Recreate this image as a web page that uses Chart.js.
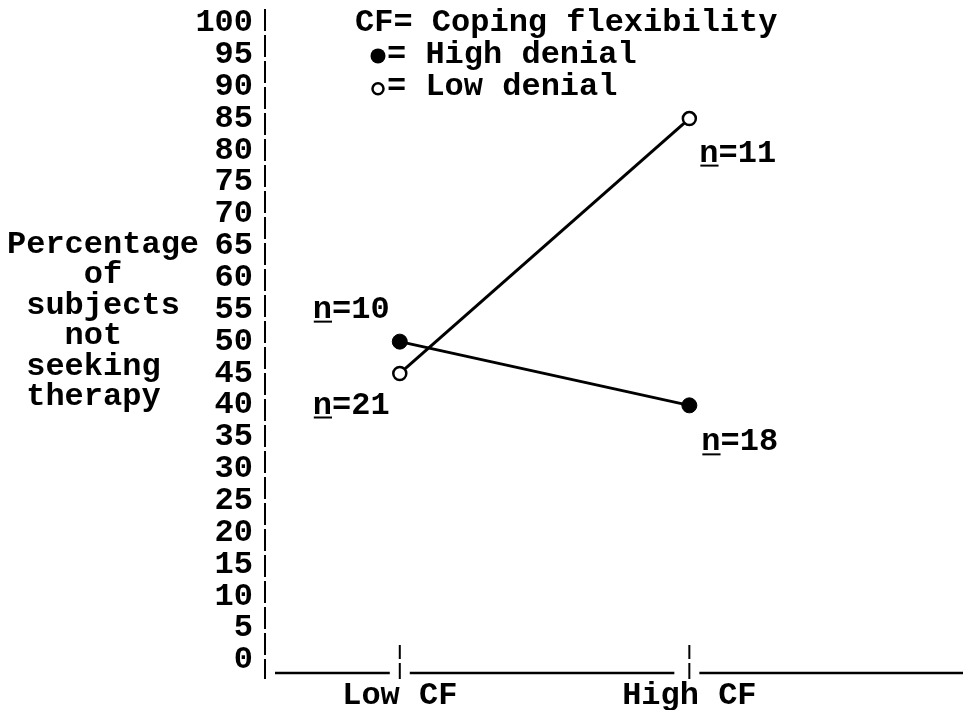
<!DOCTYPE html>
<html>
<head>
<meta charset="utf-8">
<script src="https://cdn.jsdelivr.net/npm/chart.js@4.4.1/dist/chart.umd.min.js"></script>
<style>
  html, body { margin: 0; padding: 0; background: #fff; }
  canvas { display: block; }
</style>
</head>
<body>
<canvas id="myChart" width="963" height="710"></canvas>
<script>
// data
const categories = ['Low CF', 'High CF'];
const highDenial = [50, 40];
const lowDenial = [45, 85];
const highDenialN = ['10', '18'];
const lowDenialN = ['21', '11'];
const yTicks = [0, 5, 10, 15, 20, 25, 30, 35, 40, 45, 50, 55, 60, 65, 70, 75, 80, 85, 90, 95, 100];
const yTitle = ['Percentage', '    of', ' subjects', '   not', ' seeking', ' therapy'];
const legendTitle = 'CF= Coping flexibility';
const legendLines = ['= High denial', '= Low denial'];

const FONT = 'bold 32px "Liberation Mono", "Courier New", monospace';
const CH = 19.2; // char advance at 32px

// where each n= label sits relative to its point (dx to left edge, dy to middle)
const nPlace = {
    0: [[-87, -32], [12, 37]],   // high denial
    1: [[-87, 32], [10, 35]]     // low denial
};

const extras = {
    id: 'extras',
    afterDraw(chart) {
        const ctx = chart.ctx;
        const xs = chart.scales.x, ys = chart.scales.y;
        const area = chart.chartArea;
        ctx.save();
        ctx.strokeStyle = '#000';
        ctx.fillStyle = '#000';

        // broken y axis line
        ctx.lineWidth = 2;
        ctx.setLineDash([22, 4]);
        ctx.beginPath();
        ctx.moveTo(area.left, area.top);
        ctx.lineTo(area.left, area.bottom + 6);
        ctx.stroke();
        ctx.setLineDash([]);

        // x axis line with gaps round the category ticks
        const y0 = area.bottom;
        const px = categories.map((c, i) => xs.getPixelForValue(i + 1));
        const segs = [[area.left + 10, px[0] - 10], [px[0] + 10, px[1] - 15], [px[1] + 10, chart.width]];
        ctx.lineWidth = 2.5;
        ctx.beginPath();
        segs.forEach(s => { ctx.moveTo(s[0], y0); ctx.lineTo(s[1], y0); });
        ctx.stroke();
        // little broken tick marks
        ctx.lineWidth = 2;
        ctx.beginPath();
        px.forEach(p => {
            ctx.moveTo(p, y0 - 28); ctx.lineTo(p, y0 - 14);
            ctx.moveTo(p, y0 - 10); ctx.lineTo(p, y0 + 6);
        });
        ctx.stroke();

        ctx.font = FONT;
        ctx.textBaseline = 'middle';
        ctx.textAlign = 'left';

        // y title, typewriter style
        yTitle.forEach((t, i) => ctx.fillText(t, 7, 245 + i * 30.4));

        // legend
        const lx = 355;
        ctx.fillText(legendTitle, lx, ys.getPixelForValue(100));
        const m1y = ys.getPixelForValue(95), m2y = ys.getPixelForValue(90);
        const mx = 378;
        ctx.fillText(legendLines[0], mx + 9, m1y);
        ctx.fillText(legendLines[1], mx + 9, m2y);
        ctx.beginPath();
        ctx.arc(mx, m1y + 1, 7.5, 0, Math.PI * 2);
        ctx.fill();
        ctx.lineWidth = 2.5;
        ctx.beginPath();
        ctx.arc(mx, m2y + 2, 5.5, 0, Math.PI * 2);
        ctx.stroke();

        // n= labels
        const nLabels = [highDenialN, lowDenialN];
        nLabels.forEach((arr, di) => {
            const meta = chart.getDatasetMeta(di);
            arr.forEach((n, j) => {
                const pt = meta.data[j];
                const [dx, dy] = nPlace[di][j];
                const x = pt.x + dx, y = pt.y + dy;
                ctx.fillText('n=' + n, x, y);
                ctx.lineWidth = 2;
                ctx.beginPath();
                ctx.moveTo(x + 1, y + 12);
                ctx.lineTo(x + CH, y + 12);
                ctx.stroke();
            });
        });
        ctx.restore();
    }
};

const ctx = document.getElementById('myChart');

const dataset = {
    datasets: [{
        label: 'High denial',
        data: highDenial.map((v, i) => ({ x: i + 1, y: v })),
        borderColor: '#000',
        borderWidth: 3,
        pointRadius: 7.5,
        pointBackgroundColor: '#000',
        pointBorderColor: '#000',
        pointBorderWidth: 1,
        showLine: true
    }, {
        label: 'Low denial',
        data: lowDenial.map((v, i) => ({ x: i + 1, y: v })),
        borderColor: '#000',
        borderWidth: 3,
        pointRadius: 6.5,
        pointBackgroundColor: '#fff',
        pointBorderColor: '#000',
        pointBorderWidth: 2.5,
        showLine: true
    }]
};

const config = {
    type: 'scatter',
    data: dataset,
    options: {
        responsive: false,
        animation: false,
        layout: { padding: { top: 5, right: 0, left: 0, bottom: 0 } },
        plugins: { legend: { display: false }, tooltip: { enabled: false } },
        scales: {
            x: {
                type: 'linear',
                min: 0.5345,
                max: 2.914,
                afterBuildTicks: (s) => { s.ticks = categories.map((c, i) => ({ value: i + 1 })); },
                afterFit: (s) => { s.height = 37; s.paddingLeft = 0; s.paddingRight = 0; },
                ticks: {
                    autoSkip: false,
                    maxRotation: 0,
                    padding: 4,
                    color: '#000',
                    font: { family: '"Liberation Mono", monospace', size: 32, weight: 'bold' },
                    callback: (v) => categories[v - 1]
                },
                grid: { display: false, drawTicks: false },
                border: { display: false }
            },
            y: {
                type: 'linear',
                min: -2,
                max: 102.2,
                afterBuildTicks: (s) => { s.ticks = yTicks.map(v => ({ value: v })); },
                afterFit: (s) => { s.width = 265; s.paddingTop = 0; s.paddingBottom = 0; },
                ticks: {
                    autoSkip: false,
                    padding: 12,
                    color: '#000',
                    font: { family: '"Liberation Mono", monospace', size: 32, weight: 'bold' }
                },
                grid: { display: false, drawTicks: false },
                border: { display: false }
            }
        }
    },
    plugins: [extras]
};

const chart = new Chart(ctx, config);
</script>
</body>
</html>
